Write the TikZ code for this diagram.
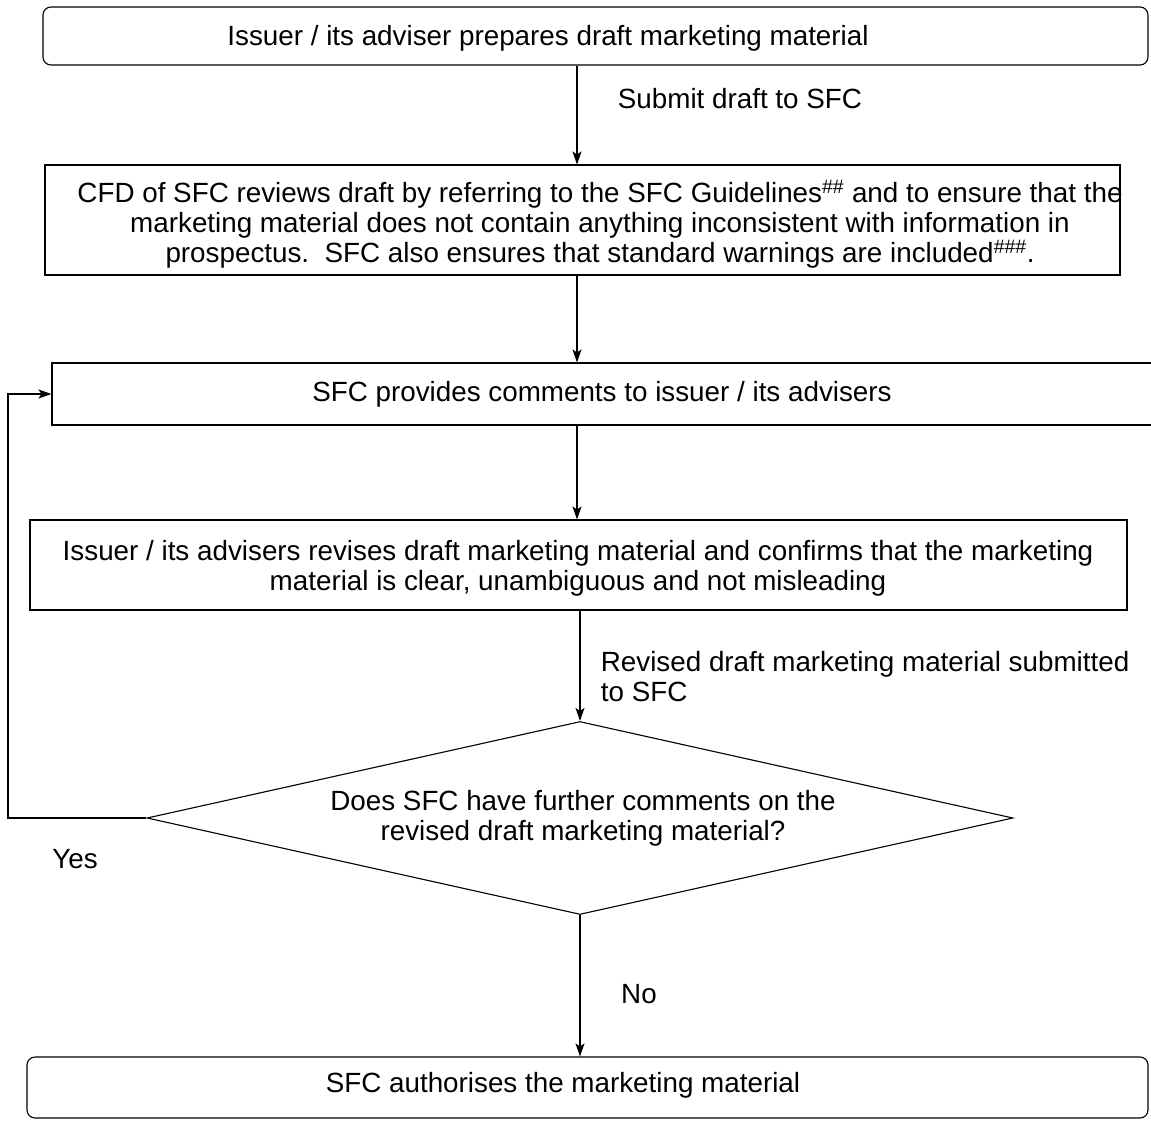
\documentclass[tikz,border=0pt]{standalone}
\usepackage{fontspec}
\setmainfont{Liberation Sans}
\usetikzlibrary{arrows.meta,shapes.geometric}
\begin{document}
\begin{tikzpicture}[x=1pt, y=-1pt, line width=1.1pt,
  box/.style={draw, inner sep=0pt},
  arr/.style={-{Stealth[length=13pt, width=9pt, inset=3pt]}},
  txt/.style={font=\fontsize{27.8}{30}\selectfont, align=center}]
\fill[white] (0,0) rectangle (1151,1121);
\useasboundingbox (0,0) rectangle (1151,1121);
\coordinate (spine) at (577,0);
\coordinate (loopx) at (8,0);
\node[box, rounded corners=8pt, minimum width=1105pt, minimum height=58pt] (prep) at (595.5,36) {};
\node[txt] (preptext) at (548,38) {Issuer / its adviser prepares draft marketing material};
\node[box, minimum width=1075pt, minimum height=110pt] (review) at (582.5,220) {};
\node[txt] (reviewtext) at (600,224) {CFD of SFC reviews draft by referring to the SFC Guidelines\textsuperscript{\#\#} and to ensure that the\\
  marketing material does not contain anything inconsistent with information in\\
  prospectus.\ \ SFC also ensures that standard warnings are included\textsuperscript{\#\#\#}.};
\node[box, minimum width=1128pt, minimum height=62pt] (comment) at (616,394) {};
\node[txt] (commenttext) at (602,394) {SFC provides comments to issuer / its advisers};
\node[box, minimum width=1097pt, minimum height=90pt] (revise) at (578.5,565) {};
\node[txt] (revisetext) at (578,568) {Issuer / its advisers revises draft marketing material and confirms that the marketing\\
  material is clear, unambiguous and not misleading};
\node[box, diamond, minimum width=866pt, minimum height=193pt] (ask) at (580,818) {};
\node[txt] (asktext) at (583,818) {Does SFC have further comments on the\\ revised draft marketing material?};
\node[box, rounded corners=8pt, minimum width=1121pt, minimum height=61pt] (done) at (587.5,1087.5) {};
\node[txt] (donetext) at (563,1085) {SFC authorises the marketing material};
\draw[arr] (prep.south -| spine) -- (review.north -| spine);
\node[txt, anchor=west] (submit) at (614,99) {Submit draft to SFC};
\draw[arr] (review.south -| spine) -- (comment.north -| spine);
\draw[arr] (comment.south -| spine) -- (revise.north -| spine);
\draw[arr] (revise.south -| ask.north) -- (ask.north);
\node[txt, align=left, anchor=west] (resubmit) at (597,677) {Revised draft marketing material submitted\\to SFC};
\draw[arr] (ask.west) -- (ask.west -| loopx) |- (comment.west);
\node[txt] (yes) at (75,859) {Yes};
\draw[arr] (ask.south) -- (done.north -| ask.south);
\node[txt] (no) at (639,994) {No};
\end{tikzpicture}
\end{document}
